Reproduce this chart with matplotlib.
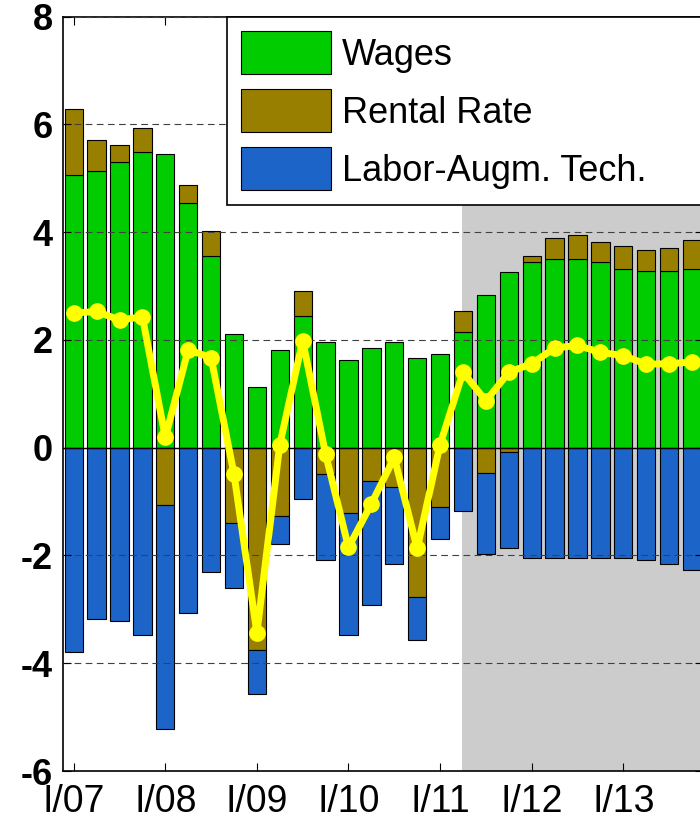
import matplotlib
matplotlib.use("Agg")
import matplotlib.pyplot as plt
import numpy as np

# contributions by quarter, I/07 .. IV/13
wages = [5.07, 5.14, 5.30, 5.48, 5.45, 4.54, 3.56, 2.12, 1.13, 1.82, 2.45, 1.97, 1.63, 1.85,
         1.97, 1.67, 1.74, 2.14, 2.83, 3.26, 3.44, 3.51, 3.51, 3.44, 3.32, 3.28, 3.28, 3.32]
rental = [1.22, 0.58, 0.31, 0.46, -1.07, 0.34, 0.46, -1.40, -3.75, -1.26, 0.46, -0.49, -1.21, -0.61,
          -0.73, -2.77, -1.10, 0.39, -0.46, -0.08, 0.11, 0.38, 0.43, 0.37, 0.43, 0.39, 0.42, 0.54]
labor = [-3.79, -3.18, -3.22, -3.48, -4.15, -3.07, -2.31, -1.21, -0.83, -0.52, -0.95, -1.59, -2.27, -2.30,
         -1.43, -0.80, -0.60, -1.18, -1.51, -1.78, -2.05, -2.05, -2.05, -2.05, -2.05, -2.08, -2.16, -2.27]
total = [2.50, 2.53, 2.37, 2.43, 0.19, 1.82, 1.67, -0.49, -3.44, 0.06, 1.99, -0.12, -1.85, -1.04,
         -0.18, -1.87, 0.06, 1.40, 0.87, 1.40, 1.56, 1.85, 1.90, 1.77, 1.71, 1.55, 1.56, 1.59]
year_labels = ['I/07', 'I/08', 'I/09', 'I/10', 'I/11', 'I/12', 'I/13']
forecast_start = 17  # II/11

plt.rcParams['font.family'] = ['Liberation Sans', 'DejaVu Sans']
plt.rcParams['axes.unicode_minus'] = False

c_wages = '#00cc00'
c_rental = '#997f00'
c_labor = '#1c64c8'

fig = plt.figure(figsize=(7, 8.19), dpi=100)
ax = fig.add_axes([0.0896, 0.0586, 0.9153, 0.921])

x = np.arange(len(wages))
w = np.array(wages)
r = np.array(rental)
lab = np.array(labor)

# shaded forecast period
ax.axvspan(forecast_start - 0.03, len(wages) + 2, color='#cccccc', zorder=0, lw=0)

bw = 0.8
ax.bar(x, w, bw, color=c_wages, edgecolor='black', linewidth=0.8, label='Wages', zorder=1)
r_bottom = np.where(r > 0, w, 0)
ax.bar(x, r, bw, bottom=r_bottom, color=c_rental, edgecolor='black', linewidth=0.8,
       label='Rental Rate', zorder=1)
l_bottom = np.minimum(r, 0)
ax.bar(x, lab, bw, bottom=l_bottom, color=c_labor, edgecolor='black', linewidth=0.8,
       label='Labor-Augm. Tech.', zorder=1)

ax.axhline(0, color='black', lw=1, zorder=3)
ax.plot(x, total, color='#ffff00', lw=5, marker='o', markersize=11, zorder=4,
        solid_joinstyle='round')

ax.set_xlim(-0.48, 27.5)
ax.set_ylim(-6, 8)
ax.set_yticks(range(-6, 9, 2))
ax.set_yticklabels([str(v) for v in range(-6, 9, 2)], fontsize=26, fontweight='bold')
ax.set_xticks(range(0, len(wages), 4))
ax.set_xticklabels(year_labels, fontsize=27)
ax.tick_params(axis='both', direction='in', length=6, width=0.8, top=True, right=True)
ax.tick_params(axis='y', pad=7)
ax.tick_params(axis='x', pad=9)

ax.grid(axis='y', linestyle=(0, (6, 4)), color='#404040', linewidth=0.8)
ax.set_axisbelow(False)
for s in ax.spines.values():
    s.set_linewidth(1.2)

leg = ax.legend(loc='upper left', bbox_to_anchor=(0.256, 0.0, 0.77, 1.0), mode='expand',
                borderaxespad=0, fontsize=26, handlelength=2.5, handleheight=1.455,
                handletextpad=0.3, labelspacing=0.42, borderpad=0.4, fancybox=False,
                framealpha=1, edgecolor='black')
leg.get_frame().set_linewidth(1.2)

fig.savefig('out.png', dpi=100)
